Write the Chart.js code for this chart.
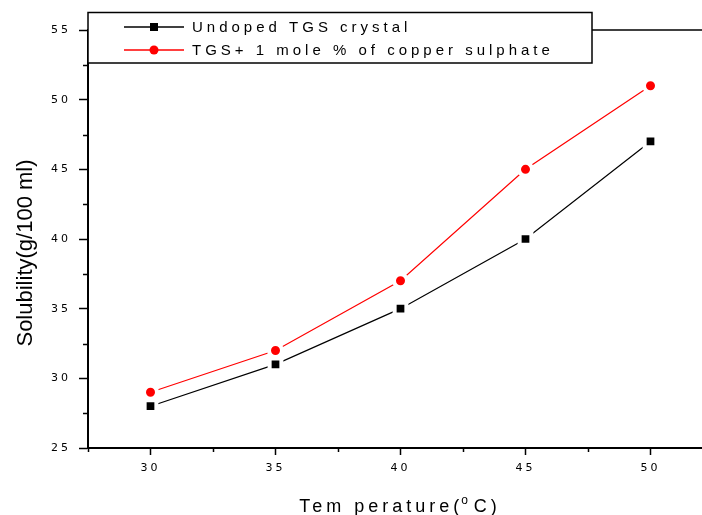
<!DOCTYPE html>
<html>
<head>
<meta charset="utf-8">
<script src="https://cdn.jsdelivr.net/npm/chart.js@4/dist/chart.umd.min.js"></script>
<style>
  html, body { margin: 0; padding: 0; background: #fff; overflow: hidden; }
  #wrap { width: 702px; height: 515px; }
</style>
</head>
<body>
<div id="wrap"><canvas id="chart"></canvas></div>
<script>
// data
const temperatures = [30, 35, 40, 45, 50];
const undoped = [28, 31, 35, 40, 47];
const doped = [29, 32, 37, 45, 51];
const seriesNames = ['Undoped TGS crystal', 'TGS+ 1 mole % of copper sulphate'];
const xTicks = [30, 35, 40, 45, 50];
const xMinor = [27.5, 32.5, 37.5, 42.5, 47.5];
const yTicks = [25, 30, 35, 40, 45, 50, 55];
const yMinor = [27.5, 32.5, 37.5, 42.5, 47.5, 52.5];

const FONT = "'Liberation Sans', Arial, sans-serif";
const TICK_FONT = "'DejaVu Sans', sans-serif";

// frame line, minor ticks, axis titles and the boxed legend
const extras = {
    id: 'extras',
    afterDraw(chart) {
        const ctx = chart.ctx;
        const a = chart.chartArea;
        const xs = chart.scales.x, ys = chart.scales.y;
        ctx.save();
        ctx.strokeStyle = '#000';

        // top frame
        ctx.lineWidth = 1.5;
        ctx.beginPath();
        ctx.moveTo(a.left, a.top);
        ctx.lineTo(a.right + 2, a.top);
        ctx.stroke();

        // minor ticks
        ctx.lineWidth = 1.5;
        ctx.beginPath();
        xMinor.forEach(v => {
            const px = Math.round(xs.getPixelForValue(v)) + 0.5;
            ctx.moveTo(px, a.bottom);
            ctx.lineTo(px, a.bottom + 4);
        });
        yMinor.forEach(v => {
            const py = Math.round(ys.getPixelForValue(v)) + 0.5;
            ctx.moveTo(a.left, py);
            ctx.lineTo(a.left - 5, py);
        });
        ctx.stroke();

        // axis titles
        ctx.fillStyle = '#000';
        ctx.letterSpacing = '4px';
        ctx.font = '18px ' + FONT;
        ctx.textAlign = 'left';
        ctx.textBaseline = 'alphabetic';
        const t1 = 'Tem perature(';
        const w1 = ctx.measureText(t1).width;
        ctx.font = '12px ' + FONT;
        const w2 = ctx.measureText('o').width;
        ctx.font = '18px ' + FONT;
        const w3 = ctx.measureText('C)').width;
        let tx = 400 - (w1 + w2 + w3) / 2;
        const ty = 512;
        ctx.fillText(t1, tx, ty);
        ctx.font = '12px ' + FONT;
        ctx.fillText('o', tx + w1 - 2, ty - 8);
        ctx.font = '18px ' + FONT;
        ctx.fillText('C)', tx + w1 + w2, ty);

        ctx.letterSpacing = '0px';
        ctx.font = '22px ' + FONT;
        ctx.translate(32, 253);
        ctx.rotate(-Math.PI / 2);
        ctx.textAlign = 'center';
        ctx.fillText('Solubility(g/100 ml)', 0, 0);
        ctx.setTransform(1, 0, 0, 1, 0, 0);

        // legend box
        const bx = a.left, by = 12.5, bw = 504, bh = 50.5;
        ctx.fillStyle = '#fff';
        ctx.fillRect(bx, by, bw, bh);
        ctx.lineWidth = 1.5;
        ctx.strokeStyle = '#000';
        ctx.strokeRect(bx, by, bw, bh);

        const rows = [27, 50];
        chart.data.datasets.forEach((ds, i) => {
            const y = rows[i];
            ctx.strokeStyle = ds.borderColor;
            ctx.lineWidth = 1.5;
            ctx.beginPath();
            ctx.moveTo(124, y);
            ctx.lineTo(184, y);
            ctx.stroke();
            ctx.fillStyle = ds.pointBackgroundColor;
            if (ds.pointStyle === 'rect') {
                ctx.fillRect(150, y - 4, 8, 8);
            } else {
                ctx.beginPath();
                ctx.arc(154, y, 4.5, 0, Math.PI * 2);
                ctx.fill();
            }
            ctx.fillStyle = '#000';
            ctx.font = '15px ' + FONT;
            ctx.letterSpacing = '4px';
            ctx.textAlign = 'left';
            ctx.textBaseline = 'middle';
            ctx.fillText(ds.label, 192, y + 1);
        });
        ctx.restore();
    }
};

// tick labels are drawn by the scales with a little letter spacing
const spacing = {
    id: 'spacing',
    beforeDraw(chart) { chart.ctx.letterSpacing = '3px'; },
    afterDatasetsDraw(chart) { chart.ctx.letterSpacing = '0px'; }
};

new Chart(document.getElementById('chart'), {
    type: 'line',
    data: {
        datasets: [
            {
                label: seriesNames[0],
                data: temperatures.map((t, i) => ({ x: t, y: undoped[i] })),
                borderColor: '#000',
                borderWidth: 1.2,
                pointStyle: 'rect',
                pointBackgroundColor: '#000',
                pointBorderColor: '#fff',
                pointBorderWidth: 4,
                pointRadius: 8.3,
                tension: 0
            },
            {
                label: seriesNames[1],
                data: temperatures.map((t, i) => ({ x: t, y: doped[i] })),
                borderColor: '#ff0000',
                borderWidth: 1.2,
                pointStyle: 'circle',
                pointBackgroundColor: '#ff0000',
                pointBorderColor: '#fff',
                pointBorderWidth: 4,
                pointRadius: 6.5,
                tension: 0
            }
        ]
    },
    options: {
        responsive: true,
        maintainAspectRatio: false,
        animation: false,
        layout: { autoPadding: false, padding: { top: 30, right: 0, left: 0, bottom: 0 } },
        plugins: {
            legend: { display: false },
            tooltip: { enabled: false }
        },
        scales: {
            x: {
                type: 'linear',
                min: 27.5,
                max: 52.06,
                afterBuildTicks: s => { s.ticks = xTicks.map(v => ({ value: v })); },
                afterFit: s => { s.height = 67; s.paddingLeft = 0; s.paddingRight = 0; },
                border: { display: true, color: '#000', width: 2 },
                grid: { drawOnChartArea: false, drawTicks: true, tickLength: 7, tickColor: '#000', tickWidth: 1.5 },
                ticks: { color: '#000', font: { family: TICK_FONT, size: 11 }, padding: 7, maxRotation: 0 }
            },
            y: {
                min: 25,
                max: 55,
                afterBuildTicks: s => { s.ticks = yTicks.map(v => ({ value: v })); },
                afterFit: s => { s.width = 88; s.paddingTop = 0; s.paddingBottom = 0; },
                border: { display: true, color: '#000', width: 2 },
                grid: { drawOnChartArea: false, drawTicks: true, tickLength: 9, tickColor: '#000', tickWidth: 1.5 },
                ticks: { color: '#000', font: { family: TICK_FONT, size: 11 }, padding: 8 }
            }
        }
    },
    plugins: [spacing, extras]
});
</script>
</body>
</html>
